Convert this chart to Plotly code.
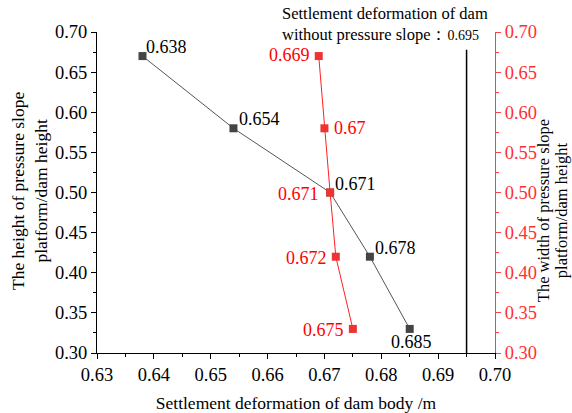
import plotly.graph_objects as go

# Settlement of dam body vs. platform height (left axis) and width (right axis)
height_ratio = [0.67, 0.58, 0.50, 0.42, 0.33]
settle_height = [0.638, 0.654, 0.671, 0.678, 0.685]

width_ratio = [0.67, 0.58, 0.50, 0.42, 0.33]
settle_width = [0.669, 0.670, 0.671, 0.672, 0.675]

no_slope_settlement = 0.695
x_ticks = [0.63, 0.64, 0.65, 0.66, 0.67, 0.68, 0.69, 0.70]
y_ticks = [0.30, 0.35, 0.40, 0.45, 0.50, 0.55, 0.60, 0.65, 0.70]

FONT = "Liberation Serif"
BLACK_LINE = "#555555"
BLACK_MARK = "#444444"
RED_LINE = "#ff2020"
RED_MARK = "#ee3333"

fig = go.Figure()
fig.add_trace(go.Scatter(
    x=settle_height, y=height_ratio, mode="lines+markers",
    line=dict(color=BLACK_LINE, width=1),
    marker=dict(symbol="square", size=8, color=BLACK_MARK),
    showlegend=False, yaxis="y"))
fig.add_trace(go.Scatter(
    x=settle_width, y=width_ratio, mode="lines+markers",
    line=dict(color=RED_LINE, width=1),
    marker=dict(symbol="square", size=8, color=RED_MARK),
    showlegend=False, yaxis="y2"))

# reference line: settlement without the pressure slope
fig.add_shape(type="line", xref="x", yref="y",
              x0=no_slope_settlement, x1=no_slope_settlement, y0=0.30, y1=0.678,
              line=dict(color="black", width=1.5))

# value labels on the height series (offsets in px)
black_offsets = [(2, 9, "left"), (4, 9, "left"), (3, 9, "left"), (3, 9, "left"), (-21, -13, "left")]
for xv, yv, (dx, dy, anc) in zip(settle_height, height_ratio, black_offsets):
    fig.add_annotation(x=xv, y=yv, xref="x", yref="y", text=f"{xv:g}",
                       showarrow=False, xanchor=anc, xshift=dx, yshift=dy,
                       font=dict(family=FONT, size=18, color="black"))

# value labels on the width series
red_offsets = [(-7, 1, "right"), (8, 0, "left"), (-9, -1, "right"), (-7, -1, "right"), (-7, -1, "right")]
for xv, yv, (dx, dy, anc) in zip(settle_width, width_ratio, red_offsets):
    fig.add_annotation(x=xv, y=yv, xref="x", yref="y2", text=f"{xv:g}",
                       showarrow=False, xanchor=anc, xshift=dx, yshift=dy,
                       font=dict(family=FONT, size=18, color="red"))

fig.add_annotation(
    xref="paper", yref="paper", x=0.46, y=1.095, xanchor="left", yanchor="top",
    align="left", showarrow=False,
    text=("Settlement deformation of dam<br>without pressure slope："
          f"<span style='font-size:14px'>{no_slope_settlement:g}</span>"),
    font=dict(family=FONT, size=16.5, color="black"))

# vertical axis titles
fig.add_annotation(
    xref="paper", yref="paper", x=-0.168, y=0.505, textangle=-90,
    xanchor="center", yanchor="middle", showarrow=False,
    text="The height of pressure slope<br>platform/dam height",
    font=dict(family=FONT, size=17.5, color="black"))
right_title_lines = [("The width of pressure slope", 1.1206),
                     ("platform/dam height", 1.1658)]
for line_text, xpos in right_title_lines:
    fig.add_annotation(
        xref="paper", yref="paper", x=xpos, y=0.445, textangle=-90,
        xanchor="center", yanchor="middle", showarrow=False, borderpad=0,
        text=line_text, font=dict(family=FONT, size=16.5, color="black"))

axis_common = dict(ticks="outside", ticklen=5, tickwidth=1, showgrid=False,
                   zeroline=False, showline=True, linewidth=1, automargin=False)

fig.update_layout(
    width=572, height=413,
    margin=dict(l=97, r=77, t=32, b=60),
    paper_bgcolor="white", plot_bgcolor="white",
    font=dict(family=FONT, size=17, color="black"),
    xaxis=dict(range=[0.63, 0.70], tickvals=x_ticks,
               ticktext=[f"{v:.2f}" for v in x_ticks],
               linecolor="black", tickcolor="black",
               minor=dict(dtick=0.005, ticks="outside", ticklen=3, tickcolor="black"),
               title=dict(text="Settlement deformation of dam body /m",
                          font=dict(family=FONT, size=17.5), standoff=16),
               tickfont=dict(family=FONT, size=18.5), **axis_common),
    yaxis=dict(range=[0.30, 0.70], tickvals=y_ticks,
               ticktext=[f"{v:.2f}" for v in y_ticks],
               linecolor="black", tickcolor="black",
               minor=dict(dtick=0.025, tick0=0.30, ticks="outside", ticklen=3, tickcolor="black"),
               tickfont=dict(family=FONT, size=18.5), **axis_common),
    yaxis2=dict(range=[0.30, 0.70], tickvals=y_ticks, overlaying="y", side="right",
                ticktext=[f"{v:.2f}" for v in y_ticks],
                linecolor="#ff4040", tickcolor="#ff4040",
                minor=dict(dtick=0.025, tick0=0.30, ticks="outside", ticklen=3, tickcolor="#ff4040"),
                tickfont=dict(family=FONT, size=18.5, color="#ff3030"), **axis_common),
)

fig.write_html("out.html")
